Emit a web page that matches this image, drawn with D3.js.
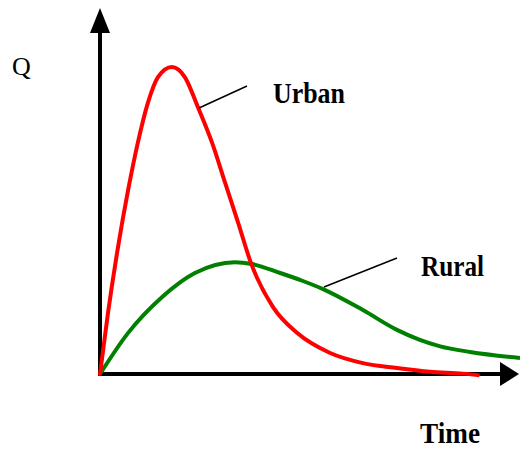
<!DOCTYPE html>
<html>
<head>
<meta charset="utf-8">
<script src="https://cdn.jsdelivr.net/npm/d3@7"></script>
<style>
  body { margin: 0; background: #fff; }
  svg { display: block; }
  text { font-family: "Liberation Serif", "Times New Roman", Times, serif; }
</style>
</head>
<body>
<svg id="chart"></svg>
<script>
const width = 520;
const height = 449;

// hydrograph shapes, time and Q in arbitrary units (0-100)
const urbanT = [0, 1.9, 4.3, 6.7, 9.0, 11.4, 13.8, 17.1, 20.2, 23.3, 26.7, 29.8, 32.9, 36.0, 41.2, 46.9, 54.8, 62.6, 70.7, 78.6, 86.4, 90];
const urbanQ = [0, 16.3, 34.0, 49.2, 61.8, 72.5, 79.4, 82.1, 79.4, 71.4, 61.8, 51.1, 40.4, 29.5, 17.9, 11.0, 5.6, 2.9, 1.6, 0.6, 0.1, -0.3];
const ruralT = [0, 6.7, 14.8, 22.6, 32.1, 36.2, 42.9, 48.0, 53.1, 62.6, 70.7, 76.0, 81.0, 88.1, 100];
const ruralQ = [0, 11.0, 20.6, 27.0, 29.9, 29.4, 27.0, 25.0, 22.7, 17.1, 11.8, 9.2, 7.4, 5.9, 4.3];

const svg = d3.select("#chart").attr("width", width).attr("height", height);

const x = d3.scaleLinear().domain([0, 100]).range([100, 520]);
const y = d3.scaleLinear().domain([0, 100]).range([374, 0]);

const line = d3.line()
  .x((d) => x(d[0]))
  .y((d) => y(d[1]))
  .curve(d3.curveMonotoneX);

// axes with arrowheads
svg.append("line")
  .attr("x1", x(0)).attr("y1", y(0))
  .attr("x2", x(0)).attr("y2", 30)
  .attr("stroke", "#000").attr("stroke-width", 4);
svg.append("path")
  .attr("d", `M${x(0) - 10},33 L${x(0)},8 L${x(0) + 10},33 Z`)
  .attr("fill", "#000");

svg.append("line")
  .attr("x1", x(0) - 2).attr("y1", y(0))
  .attr("x2", 502).attr("y2", y(0))
  .attr("stroke", "#000").attr("stroke-width", 4);
svg.append("path")
  .attr("d", `M500,${y(0) - 12} L519,${y(0)} L500,${y(0) + 12} Z`)
  .attr("fill", "#000");

// curves
svg.append("path")
  .datum(d3.zip(ruralT, ruralQ))
  .attr("d", line)
  .attr("fill", "none")
  .attr("stroke", "#008000")
  .attr("stroke-width", 4);

svg.append("path")
  .datum(d3.zip(urbanT, urbanQ))
  .attr("d", line)
  .attr("fill", "none")
  .attr("stroke", "#ff0000")
  .attr("stroke-width", 4)
  .attr("stroke-linecap", "round");

// leader lines
svg.append("line")
  .attr("x1", 199).attr("y1", 108).attr("x2", 247).attr("y2", 86)
  .attr("stroke", "#000").attr("stroke-width", 1.5);
svg.append("line")
  .attr("x1", 324).attr("y1", 287).attr("x2", 397).attr("y2", 258)
  .attr("stroke", "#000").attr("stroke-width", 1.5);

// labels
svg.append("text")
  .attr("x", 12).attr("y", 75)
  .style("font-size", "26px")
  .text("Q");

const labels = [
  { text: "Urban", x: 273, y: 103, w: 72 },
  { text: "Rural", x: 421, y: 276, w: 63 },
  { text: "Time", x: 420, y: 443, w: 60 },
];
svg.selectAll(".lbl")
  .data(labels)
  .enter()
  .append("text")
  .attr("class", "lbl")
  .attr("x", (d) => d.x)
  .attr("y", (d) => d.y)
  .attr("textLength", (d) => d.w)
  .attr("lengthAdjust", "spacingAndGlyphs")
  .style("font-size", "30px")
  .style("font-weight", "bold")
  .text((d) => d.text);
</script>
</body>
</html>
